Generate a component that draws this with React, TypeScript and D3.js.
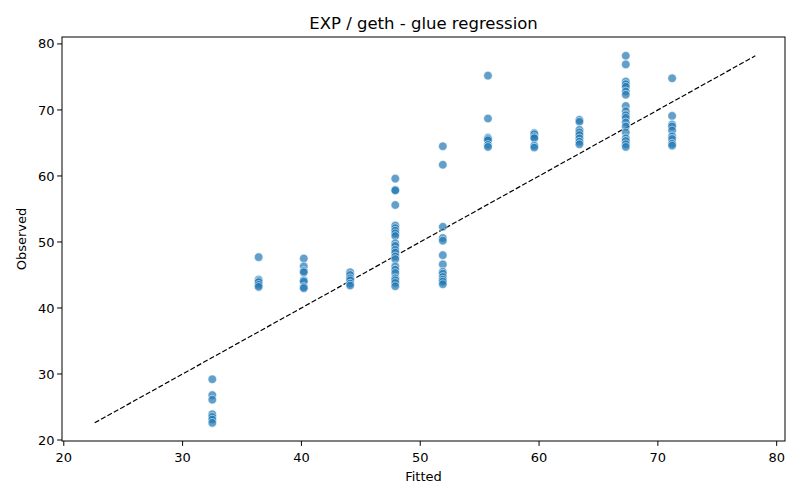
import React from "react";
import * as d3 from "d3";

const fittedLevels = [32.5, 36.4, 40.2, 44.1, 47.9, 51.9, 55.7, 59.6, 63.4, 67.3, 71.2];
const obs325 = [29.2, 26.8, 26.1, 23.9, 23.5, 23.1, 22.6];
const obs364 = [47.7, 44.3, 44.1, 43.9, 43.5, 43.2];
const obs402 = [47.5, 46.3, 45.6, 45.4, 44.2, 44.0, 43.2, 43.0];
const obs441 = [45.4, 45.0, 44.5, 44.2, 43.7, 43.4];
const obs479 = [59.6, 57.9, 57.8, 55.6, 52.5, 52.1, 51.7, 51.3, 50.9, 49.8, 49.4, 48.8, 48.4, 47.8, 47.4, 46.3, 45.8, 45.3, 44.5, 44.2, 43.8, 43.3];
const obs519 = [64.5, 61.7, 52.3, 50.6, 50.2, 48.0, 46.6, 45.5, 45.2, 44.7, 44.3, 44.0, 43.6];
const obs557 = [75.2, 68.7, 65.8, 65.6, 65.4, 64.7, 64.4];
const obs596 = [66.5, 66.3, 65.9, 65.7, 64.6, 64.3];
const obs634 = [68.5, 68.2, 67.0, 66.6, 66.2, 65.7, 65.2, 64.8];
const obs673 = [78.2, 76.9, 74.3, 73.9, 73.5, 72.8, 72.3, 70.6, 69.8, 69.2, 68.8, 68.1, 67.5, 66.6, 65.7, 65.3, 64.8, 64.4];
const obs712 = [74.8, 69.1, 67.8, 67.5, 66.9, 66.0, 65.6, 64.9, 64.6];
const observedGroups = [obs325, obs364, obs402, obs441, obs479, obs519, obs557, obs596, obs634, obs673, obs712];
const xTicks = [20, 30, 40, 50, 60, 70, 80];
const yTicks = [20, 30, 40, 50, 60, 70, 80];

const W = 800;
const H = 500;
const margin = { top: 37, right: 15, bottom: 59, left: 62 };
const font = "DejaVu Sans, sans-serif";

export default function App() {
  const points = fittedLevels.flatMap((f, i) => observedGroups[i].map((o) => ({ f, o })));
  const all = points.flatMap((p) => [p.f, p.o]);
  const [lo, hi] = d3.extent(all) as [number, number];

  const x = d3.scaleLinear().domain([19.85, 80.7]).range([margin.left, W - margin.right]);
  const y = d3.scaleLinear().domain([19.85, 81.05]).range([H - margin.bottom, margin.top]);

  const x0 = margin.left;
  const x1 = W - margin.right;
  const y0 = H - margin.bottom;
  const y1 = margin.top;

  return (
    <svg width={W} height={H} style={{ display: "block", margin: -8 }} fontFamily={font}>
      <rect width={W} height={H} fill="#fff" />
      <text x={(x0 + x1) / 2} y={28.5} textAnchor="middle" fontSize={16.5} fill="#000">
        EXP / geth - glue regression
      </text>

      {/* identity line */}
      <line
        x1={x(lo)}
        y1={y(lo)}
        x2={x(hi)}
        y2={y(hi)}
        stroke="#000"
        strokeWidth={1.2}
        strokeDasharray="5.1,2.2"
      />

      {points.map((p, i) => (
        <circle
          key={i}
          cx={x(p.f)}
          cy={y(p.o)}
          r={4.3}
          fill="#1f77b4"
          fillOpacity={0.7}
          stroke="#fff"
          strokeOpacity={0.7}
          strokeWidth={0.8}
        />
      ))}

      <rect x={x0} y={y1} width={x1 - x0} height={y0 - y1} fill="none" stroke="#000" strokeWidth={1} />

      {xTicks.map((t) => (
        <g key={"x" + t} transform={`translate(${x(t)},${y0})`}>
          <line y2={4.9} stroke="#000" strokeWidth={1} />
          <text y={21} textAnchor="middle" fontSize={13} fill="#000">
            {t}
          </text>
        </g>
      ))}
      {yTicks.map((t) => (
        <g key={"y" + t} transform={`translate(${x0},${y(t)})`}>
          <line x2={-4.9} stroke="#000" strokeWidth={1} />
          <text x={-7.5} dy="0.35em" textAnchor="end" fontSize={13} fill="#000">
            {t}
          </text>
        </g>
      ))}

      <text x={(x0 + x1) / 2} y={481} textAnchor="middle" fontSize={13} fill="#000">
        Fitted
      </text>
      <text
        transform={`translate(26,${(y0 + y1) / 2}) rotate(-90)`}
        textAnchor="middle"
        fontSize={13}
        fill="#000"
      >
        Observed
      </text>
    </svg>
  );
}
